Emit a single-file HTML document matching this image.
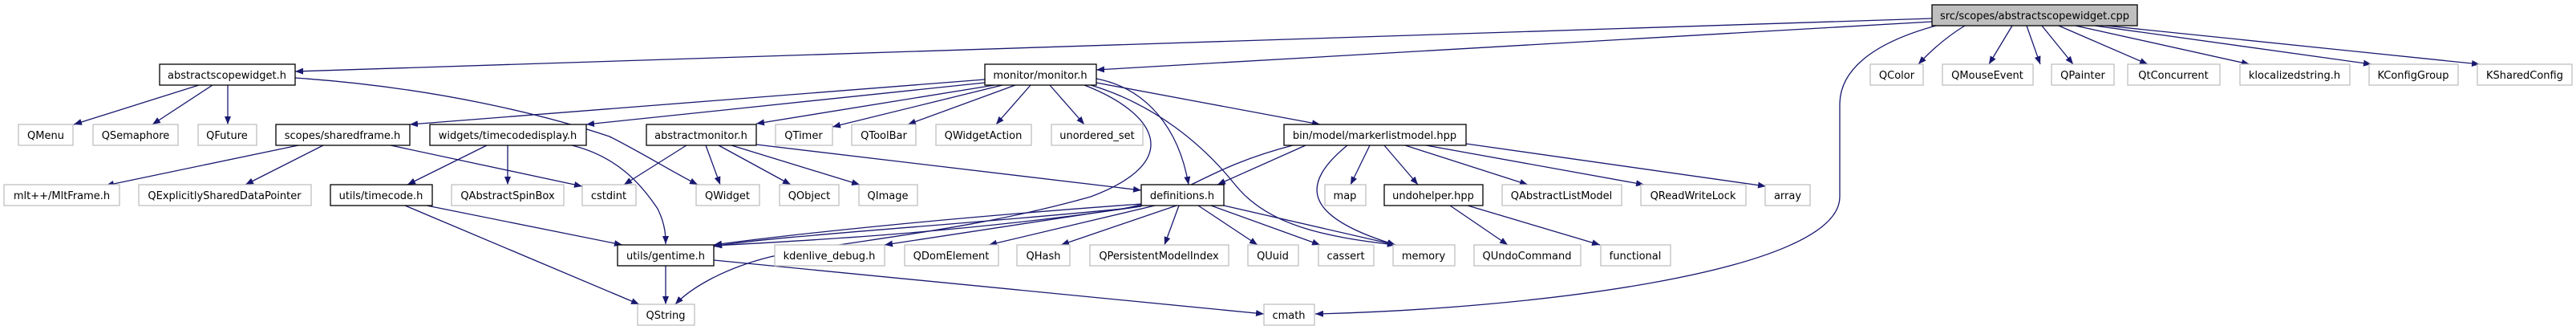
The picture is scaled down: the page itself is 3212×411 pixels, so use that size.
<!DOCTYPE html>
<html><head><meta charset="utf-8"><style>
html,body{margin:0;padding:0;background:#fff;width:3212px;height:411px;overflow:hidden}
svg{display:block}
text{font-family:"DejaVu Sans","Liberation Sans",sans-serif;font-size:13px;text-anchor:middle;fill:#000}
.g{fill:#fff;stroke:#bfbfbf;stroke-width:1.3}
.b{fill:#fff;stroke:#000;stroke-width:1.3}
.e{fill:none;stroke:#191970;stroke-width:1.3}
</style></head><body>
<svg width="3212" height="411" viewBox="0 0 3212 411" xmlns="http://www.w3.org/2000/svg">
<defs><marker id="a" viewBox="0 0 10 8" refX="10" refY="4" markerWidth="10" markerHeight="8" markerUnits="userSpaceOnUse" orient="auto"><path d="M0,0L10,4L0,8z" fill="#191970"/></marker></defs>
<g class="e" marker-end="url(#a)">
<!-- root edges -->
<path d="M2409,23 L368,89"/>
<path d="M2409,27 L1367,87"/>
<path d="M2450,32 Q2420,50 2392,80"/>
<path d="M2414,32 C2330,55 2294,90 2294,130 L2294,245 C2294,340 1900,385 1640,391"/>
<path d="M2509,32 L2480,80"/>
<path d="M2527,32 L2544,80"/>
<path d="M2546,32 L2585,80"/>
<path d="M2567,32 L2678,80"/>
<path d="M2588,32 L2805,80"/>
<path d="M2612,32 L2957,80"/>
<path d="M2626,32 L3092,80"/>
<!-- abstractscopewidget -->
<path d="M248,106 L92,155"/>
<path d="M265,106 L190,155"/>
<path d="M284,106 L284,155"/>
<path d="M368,97 C560,110 700,150 760,170 C800,190 840,215 870,230"/>
<!-- monitor -->
<path d="M1228,99 L511,155"/>
<path d="M1228,103 L731,155"/>
<path d="M1240,106 L943,154"/>
<path d="M1250,106 L1038,158"/>
<path d="M1266,106 L1132,155"/>
<path d="M1285,106 L1242,155"/>
<path d="M1309,106 L1352,155"/>
<path d="M1367,98 C1430,110 1470,160 1482,230"/>
<path d="M1352,106 C1440,140 1480,200 1360,245 C1200,290 1050,300 960,320 C900,335 860,360 842,379"/>
<path d="M1360,106 C1440,130 1500,180 1540,230 C1580,280 1650,295 1740,305"/>
<path d="M1367,103 L1646,155"/>
<!-- abstractmonitor -->
<path d="M856,181 L778,230"/>
<path d="M880,181 L898,230"/>
<path d="M896,181 L986,230"/>
<path d="M912,181 L1072,230"/>
<path d="M943,180 L1423,237"/>
<!-- sharedframe -->
<path d="M372,181 L132,231"/>
<path d="M403,181 L306,230"/>
<path d="M487,181 L726,232"/>
<!-- timecodedisplay -->
<path d="M607,181 L508,230"/>
<path d="M633,181 L633,230"/>
<path d="M713,181 C770,195 800,230 820,260 C830,280 830,295 830,304"/>
<!-- timecode -->
<path d="M532,256 L776,305"/>
<path d="M505,256 L797,379"/>
<!-- gentime -->
<path d="M830,330 L830,379"/>
<path d="M890,324 L1576,391"/>
<!-- definitions -->
<path d="M1423,254 C1200,270 1000,290 890,305"/>
<path d="M1423,257 C1200,290 1000,300 890,306"/>
<path d="M1425,256 L1103,305"/>
<path d="M1440,256 L1233,305"/>
<path d="M1467,256 L1323,305"/>
<path d="M1470,256 L1452,305"/>
<path d="M1494,256 L1568,305"/>
<path d="M1510,256 L1646,305"/>
<path d="M1526,256 L1740,305"/>
<!-- markerlistmodel -->
<path d="M1628,181 L1518,230"/>
<path d="M1612,181 C1500,210 1480,245 1400,260 C1200,280 950,295 890,307"/>
<path d="M1680,181 C1620,230 1625,270 1740,305"/>
<path d="M1708,181 L1684,230"/>
<path d="M1726,181 L1768,230"/>
<path d="M1752,181 L1905,230"/>
<path d="M1778,181 L2050,230"/>
<path d="M1828,179 L2202,232"/>
<!-- undohelper -->
<path d="M1808,256 L1880,305"/>
<path d="M1830,256 L1995,305"/>
</g>
<!-- nodes -->
<rect class="b" x="2409" y="6" width="256" height="26" style="fill:#bfbfbf"/><text x="2537" y="24">src/scopes/abstractscopewidget.cpp</text>
<rect class="b" x="199" y="80" width="169" height="26"/><text x="283" y="98">abstractscopewidget.h</text>
<rect class="b" x="1228" y="80" width="139" height="26"/><text x="1297" y="98">monitor/monitor.h</text>
<rect class="g" x="2332" y="80" width="66" height="26"/><text x="2365" y="98">QColor</text>
<rect class="g" x="2422" y="80" width="113" height="26"/><text x="2478" y="98">QMouseEvent</text>
<rect class="g" x="2558" y="80" width="78" height="26"/><text x="2597" y="98">QPainter</text>
<rect class="g" x="2653" y="80" width="115" height="26"/><text x="2710" y="98">QtConcurrent</text>
<rect class="g" x="2793" y="80" width="137" height="26"/><text x="2861" y="98">klocalizedstring.h</text>
<rect class="g" x="2954" y="80" width="111" height="26"/><text x="3009" y="98">KConfigGroup</text>
<rect class="g" x="3089" y="80" width="118" height="26"/><text x="3148" y="98">KSharedConfig</text>
<rect class="g" x="23" y="155" width="68" height="26"/><text x="57" y="173">QMenu</text>
<rect class="g" x="116" y="155" width="106" height="26"/><text x="169" y="173">QSemaphore</text>
<rect class="g" x="247" y="155" width="73" height="26"/><text x="283" y="173">QFuture</text>
<rect class="b" x="344" y="155" width="167" height="26"/><text x="427" y="173">scopes/sharedframe.h</text>
<rect class="b" x="536" y="155" width="195" height="26"/><text x="633" y="173">widgets/timecodedisplay.h</text>
<rect class="b" x="806" y="155" width="137" height="26"/><text x="874" y="173">abstractmonitor.h</text>
<rect class="g" x="967" y="155" width="71" height="26"/><text x="1002" y="173">QTimer</text>
<rect class="g" x="1062" y="155" width="80" height="26"/><text x="1102" y="173">QToolBar</text>
<rect class="g" x="1167" y="155" width="119" height="26"/><text x="1226" y="173">QWidgetAction</text>
<rect class="g" x="1311" y="155" width="114" height="26"/><text x="1368" y="173">unordered_set</text>
<rect class="b" x="1601" y="155" width="227" height="26"/><text x="1714" y="173">bin/model/markerlistmodel.hpp</text>
<rect class="g" x="5" y="230" width="144" height="26"/><text x="77" y="248">mlt++/MltFrame.h</text>
<rect class="g" x="173" y="230" width="215" height="26"/><text x="280" y="248">QExplicitlySharedDataPointer</text>
<rect class="b" x="412" y="230" width="127" height="26"/><text x="475" y="248">utils/timecode.h</text>
<rect class="g" x="563" y="230" width="140" height="26"/><text x="633" y="248">QAbstractSpinBox</text>
<rect class="g" x="726" y="230" width="67" height="26"/><text x="759" y="248">cstdint</text>
<rect class="g" x="868" y="230" width="79" height="26"/><text x="907" y="248">QWidget</text>
<rect class="g" x="972" y="230" width="74" height="26"/><text x="1009" y="248">QObject</text>
<rect class="g" x="1071" y="230" width="73" height="26"/><text x="1107" y="248">QImage</text>
<rect class="b" x="1423" y="230" width="103" height="26"/><text x="1474" y="248">definitions.h</text>
<rect class="g" x="1652" y="230" width="51" height="26"/><text x="1677" y="248">map</text>
<rect class="b" x="1726" y="230" width="123" height="26"/><text x="1787" y="248">undohelper.hpp</text>
<rect class="g" x="1873" y="230" width="149" height="26"/><text x="1947" y="248">QAbstractListModel</text>
<rect class="g" x="2046" y="230" width="131" height="26"/><text x="2111" y="248">QReadWriteLock</text>
<rect class="g" x="2201" y="230" width="56" height="26"/><text x="2229" y="248">array</text>
<rect class="b" x="770" y="305" width="120" height="26"/><text x="830" y="323">utils/gentime.h</text>
<rect class="g" x="966" y="305" width="137" height="26"/><text x="1034" y="323">kdenlive_debug.h</text>
<rect class="g" x="1128" y="305" width="117" height="26"/><text x="1186" y="323">QDomElement</text>
<rect class="g" x="1268" y="305" width="66" height="26"/><text x="1301" y="323">QHash</text>
<rect class="g" x="1359" y="305" width="173" height="26"/><text x="1445" y="323">QPersistentModelIndex</text>
<rect class="g" x="1556" y="305" width="63" height="26"/><text x="1587" y="323">QUuid</text>
<rect class="g" x="1644" y="305" width="69" height="26"/><text x="1678" y="323">cassert</text>
<rect class="g" x="1737" y="305" width="77" height="26"/><text x="1775" y="323">memory</text>
<rect class="g" x="1838" y="305" width="133" height="26"/><text x="1904" y="323">QUndoCommand</text>
<rect class="g" x="1996" y="305" width="87" height="26"/><text x="2039" y="323">functional</text>
<rect class="g" x="795" y="379" width="71" height="26"/><text x="830" y="397">QString</text>
<rect class="g" x="1576" y="379" width="63" height="26"/><text x="1607" y="397">cmath</text>
</svg>
</body></html>
